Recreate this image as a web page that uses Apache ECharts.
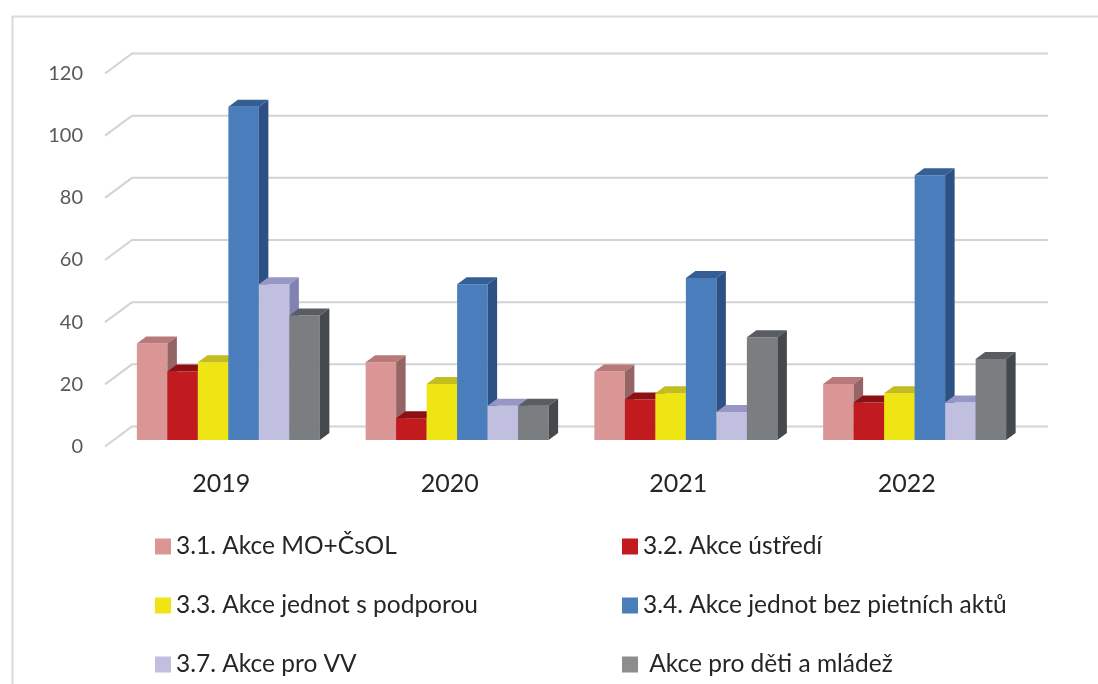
<!DOCTYPE html>
<html>
<head>
<meta charset="utf-8">
<script src="https://cdn.jsdelivr.net/npm/echarts@6/dist/echarts.min.js"></script>
<style>
html,body{margin:0;padding:0;background:#fff;}
#c{width:1098px;height:684px;}
</style>
</head>
<body>
<div id="c"></div>
<script>
const years = ['2019', '2020', '2021', '2022'];
const yTicks = [0, 20, 40, 60, 80, 100, 120];
const seriesNames = ['3.1. Akce MO+ČsOL', '3.2. Akce ústředí', '3.3. Akce jednot s podporou',
  '3.4. Akce jednot bez pietních aktů', '3.7. Akce pro VV', ' Akce pro děti a mládež'];
const s31 = [31, 25, 22, 18];
const s32 = [22, 7, 13, 12];
const s33 = [25, 18, 15, 15];
const s34 = [107, 50, 52, 85];
const s37 = [50, 11, 9, 12];
const sDeti = [40, 11, 33, 26];
const seriesValues = [s31, s32, s33, s34, s37, sDeti];

const frontColors = ['#d99694', '#c11b20', '#efe514', '#4a7dbc', '#c0bfe0', '#7b7e81'];
const topColors = ['#b87978', '#8e1013', '#c3bd1f', '#355f94', '#9797c6', '#595c60'];
const sideColors = ['#956565', '#7a1014', '#a39e18', '#2d5184', '#8282b2', '#45484c'];
const legendColors = ['#d99694', '#c11b20', '#efe514', '#4a7dbc', '#c0bfe0', '#8d8d8d'];

const DX = 9.5, DY = -7;
const GDX = 27, GDY = -20;

function barRender(si) {
  return function (params, api) {
    const ci = api.value(0);
    const v = api.value(1);
    const catW = api.size([1, 0])[0];
    const bw = catW * 0.8 / 6;
    const center = api.coord([ci, 0]);
    const x = center[0] - catW * 0.4 + si * bw;
    const yb = center[1];
    const yt = api.coord([ci, v])[1];
    return {
      type: 'group',
      children: [
        { type: 'rect', shape: { x: x, y: yt, width: bw, height: yb - yt }, style: { fill: frontColors[si] } },
        { type: 'polygon', shape: { points: [[x, yt], [x + DX, yt + DY], [x + bw + DX, yt + DY], [x + bw, yt]] }, style: { fill: topColors[si] } },
        { type: 'polygon', shape: { points: [[x + bw, yt], [x + bw + DX, yt + DY], [x + bw + DX, yb + DY], [x + bw, yb]] }, style: { fill: sideColors[si] } }
      ]
    };
  };
}

const series = [];
series.push({
  type: 'custom',
  name: 'grid',
  xAxisIndex: 1, yAxisIndex: 1,
  silent: true,
  z: 1,
  data: yTicks.map(v => [0, v]),
  renderItem: function (params, api) {
    const cs = params.coordSys;
    const fy = api.coord([0, api.value(1)])[1];
    const fx = cs.x - 2;
    return {
      type: 'polyline',
      shape: { points: [[fx, fy], [fx + GDX, fy + GDY], [cs.x + cs.width + GDX, fy + GDY]] },
      style: { stroke: '#d3d3d3', lineWidth: 2, fill: null }
    };
  }
});
seriesValues.forEach((vals, si) => {
  series.push({
    type: 'custom',
    name: seriesNames[si],
    xAxisIndex: 0, yAxisIndex: 0,
    z: 2 + si,
    itemStyle: { color: legendColors[si] },
    data: vals.map((v, i) => [i, v]),
    renderItem: barRender(si)
  });
});

const chart = echarts.init(document.getElementById('c'));
chart.setOption({
  backgroundColor: '#ffffff',
  animation: false,
  graphic: [{
    type: 'rect', left: 10, top: 14, shape: { x: 0, y: 0, width: 1200, height: 800 },
    style: { fill: null, stroke: '#d9d9d9', lineWidth: 2 }, silent: true, z: 0
  }],
  grid: [
    { left: 114, right: 69, top: 66.2, bottom: 244 },
    { left: 107, right: 77, top: 73.5, bottom: 237.5 }
  ],
  xAxis: [
    { type: 'category', gridIndex: 0, data: years, show: false },
    { type: 'category', gridIndex: 1, data: years,
      axisLine: { show: false }, axisTick: { show: false },
      axisLabel: { color: '#262626', fontSize: 25, fontFamily: 'Lato', margin: 25 } }
  ],
  yAxis: [
    { type: 'value', gridIndex: 0, min: 0, max: 120, interval: 20, show: false },
    { type: 'value', gridIndex: 1, min: 0, max: 120, interval: 20,
      axisLine: { show: false }, axisTick: { show: false }, splitLine: { show: false },
      axisLabel: { color: '#595959', fontSize: 20, fontFamily: 'Lato', margin: 24 } }
  ],
  legend: [
    { orient: 'vertical', left: 155, top: 534, padding: 0, itemWidth: 16, itemHeight: 16, itemGap: 34,
      icon: 'rect', selectedMode: false,
      data: [seriesNames[0], seriesNames[2], seriesNames[4]],
      textStyle: { color: '#262626', fontSize: 24.5, fontFamily: 'Lato', lineHeight: 24 } },
    { orient: 'vertical', left: 622, top: 534, padding: 0, itemWidth: 16, itemHeight: 16, itemGap: 34,
      icon: 'rect', selectedMode: false,
      data: [seriesNames[1], seriesNames[3], seriesNames[5]],
      textStyle: { color: '#262626', fontSize: 24.5, fontFamily: 'Lato', lineHeight: 24 } }
  ],
  series: series
});
</script>
</body>
</html>
